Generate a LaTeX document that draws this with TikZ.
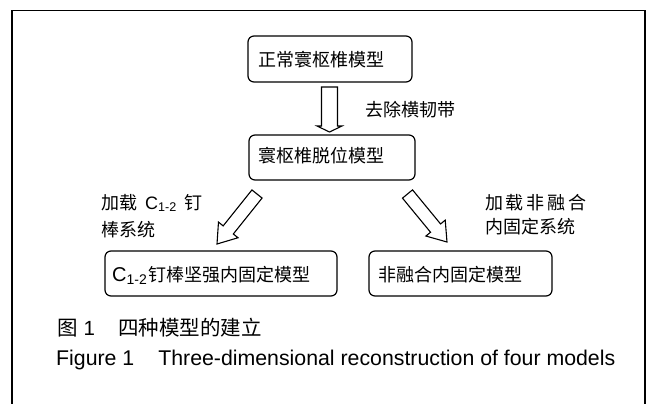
\documentclass[tikz,border=0pt]{standalone}
\usepackage{fontspec}
\setmainfont{Liberation Sans}
\newfontfamily\cjk{Noto Sans CJK SC}
\newfontfamily\lat{Liberation Sans}
\usetikzlibrary{calc}
\tikzset{
  box/.style={draw, line width=1.2pt, rounded corners=6pt, inner sep=0pt},
  txt/.style={inner sep=0pt, anchor=west, font=\fontsize{18}{20}\selectfont\cjk},
  captxt/.style={inner sep=0pt, anchor=base west, font=\fontsize{20.5}{24}\selectfont},
  hollow/.style={draw, line width=1.1pt, fill=white, line join=miter},
}
\newcommand\blockarrow[5]{%
  \path ($(#2)!#5!(#1)$) coordinate (hb);
  \draw[hollow] ($(#1)!#3!90:(#2)$) -- ($(hb)!#3!90:(#2)$) -- ($(hb)!#4!90:(#2)$) -- (#2)
    -- ($(hb)!#4!-90:(#2)$) -- ($(hb)!#3!-90:(#2)$) -- ($(#1)!#3!-90:(#2)$) -- cycle;
}
\begin{document}
\begin{tikzpicture}[x=1pt,y=-1pt]
\useasboundingbox (0,0) rectangle (651,404);
\fill[white] (0,0) rectangle (651,404);
\draw[line width=1.5pt] (12,404) -- (12,10.5) -- (645,10.5) -- (645,404);

% boxes
\node[box, minimum width=164pt, minimum height=46pt] (b1) at (330,59) {};
\node[box, minimum width=166pt, minimum height=45pt] (b2) at (332,157.5) {};
\node[box, minimum width=232pt, minimum height=45pt] (b3) at (221,273.5) {};
\node[box, minimum width=183pt, minimum height=45pt] (b4) at (460.5,273.5) {};

\node[txt] (t1) at (258,60) {正常寰枢椎模型};
\node[txt] (t2) at (258,156) {寰枢椎脱位模型};
\node[txt] (t3) at (112,275) {{\lat\fontsize{20}{22}\selectfont C\textsubscript{1-2}}\hspace{1pt}钉棒坚强内固定模型};
\node[txt] (t4) at (378,275) {非融合内固定模型};

% arrows
\coordinate (d0) at (329.5,87);
\coordinate (d1) at (329.5,132);
\blockarrow{d0}{d1}{8pt}{12.5pt}{6pt}
\coordinate (l0) at (257,194);
\coordinate (l1) at (217,244);
\blockarrow{l0}{l1}{6.5pt}{12.5pt}{18pt}
\coordinate (r0) at (407.5,194);
\coordinate (r1) at (447,242);
\blockarrow{r0}{r1}{6.5pt}{12.5pt}{18pt}

% labels
\node[txt] (lab0) at (365,110) {去除横韧带};
\node[txt] (labl1) at (101,203) {加载\hspace{8pt}{\lat C\textsubscript{1-2}}\hspace{8pt}钉};
\node[txt] (labl2) at (101,230) {棒系统};
\node[txt] (labr1) at (485,203) {加\hspace{2.7pt}载\hspace{2.7pt}非\hspace{2.7pt}融\hspace{2.7pt}合};
\node[txt] (labr2) at (485,227) {内固定系统};

% captions
\node[captxt] (c1) at (57,335) {{\cjk 图}\hspace{6pt}1\hspace{23pt}{\cjk 四种模型的建立}};
\node[captxt, font=\fontsize{21.3}{24}\selectfont] (c2) at (56,365) {Figure 1\hspace{24pt}Three-dimensional reconstruction of four models};
\end{tikzpicture}
\end{document}
